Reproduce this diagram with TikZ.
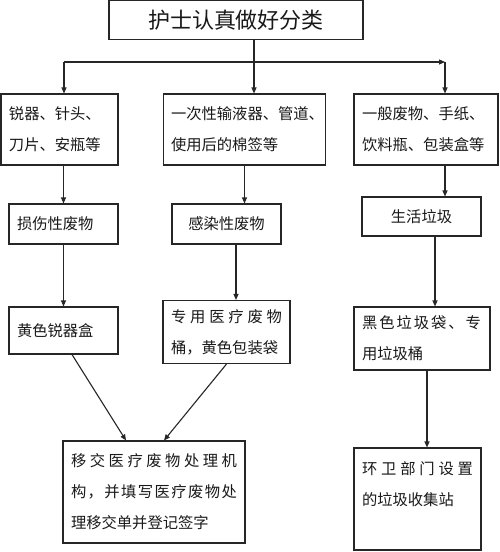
\documentclass[tikz,border=0pt]{standalone}
\usepackage{fontspec}
\newfontfamily\cjk{Noto Sans CJK SC}
\usetikzlibrary{arrows.meta}
\tikzset{
  box/.style={draw=black!85, line width=1.1pt, inner xsep=8pt, inner ysep=0pt, align=left,
    font=\cjk\fontsize{15.3}{31}\selectfont, text=black!90},
  titlebox/.style={box, align=center, font=\cjk\fontsize{22}{26}\selectfont},
  conn/.style={draw=black!85, line width=1.1pt},
  arr/.style={conn, -{Triangle[length=6pt,width=5pt]}}
}
\def\sprA#1{#1\sprB}
\def\sprB#1{\ifx#1\relax\else\hfill#1\expandafter\sprB\fi}
\newcommand\spr[2]{\leavevmode\hbox to #1pt{\sprA#2\relax}}
\begin{document}
\begin{tikzpicture}[x=1pt,y=-1pt]
\useasboundingbox[fill=white] (0,0) rectangle (500,552);
\node[titlebox, text width=238pt, minimum height=39pt] (top) at (236,20) {护士认真做好分类};
\node[box, text width=101pt, minimum height=71pt] (A1) at (59.5,129.5) {锐器、针头、\\刀片、安瓶等};
\node[box, text width=147pt, minimum height=71pt, inner xsep=7.5pt] (B1) at (244.5,129.5) {一次性输液器、管道、\\使用后的棉签等};
\node[box, text width=128pt, minimum height=71pt] (C1) at (426,129.5) {一般废物、手纸、\\饮料瓶、包装盒等};
\node[box, text width=93pt, minimum height=40pt] (A2) at (63.5,224) {损伤性废物};
\node[box, text width=93pt, minimum height=40pt, align=center] (B2) at (226.5,224) {感染性废物};
\node[box, text width=103pt, minimum height=39pt, align=center] (C2) at (421.5,216.5) {生活垃圾};
\node[box, text width=93pt, minimum height=47pt] (A3) at (63.5,330.5) {黄色锐器盒};
\node[box, text width=111pt, minimum height=63pt] (B3) at (226.5,332) {\spr{111}{专用医疗废物}\\桶，黄色包装袋};
\node[box, text width=120pt, minimum height=63pt] (C3) at (422,338.5) {\spr{119}{黑色垃圾袋、专}\\用垃圾桶};
\node[box, text width=166pt, minimum height=102pt] (D) at (154,492) {\spr{166}{移交医疗废物处理机}\\\spr{166}{构，并填写医疗废物处}\\理移交单并登记签字};
\node[box, text width=111pt, minimum height=102pt] (C4) at (417.5,499) {\spr{111}{环卫部门设置}\\的垃圾收集站\\\mbox{}};
\coordinate (hl) at (64,62);
\coordinate (hr) at (445,62);
\coordinate (hm) at (254,62);
\draw[conn] (top.south -| hm) -- (hm);
\draw[arr] (hl) -- (hr);
\draw[arr] (hm) -- (B1.north -| hm);
\draw[arr] (hl) -- (A1.north -| hl);
\draw[arr] (hr) -- (C1.north -| hr);
\draw[arr] (A1.south -| A2.north) -- (A2.north);
\draw[arr] (B1.south) -- (B2.north -| B1.south);
\draw[arr] (C1.south -| hr) -- (C2.north -| hr);
\draw[arr] (A2.south) -- (A3.north);
\draw[arr] ([xshift=9.5pt]B2.south) -- ([xshift=9.5pt]B3.north);
\draw[arr] ([xshift=13.5pt]C2.south) -- ([xshift=13pt]C3.north);
\draw[arr] ([xshift=5pt]C3.south) -- ([xshift=9.5pt]C4.north);
\draw[arr] ([xshift=8.5pt]A3.south) -- ([xshift=-28pt]D.north);
\draw[arr] (B3.south) -- ([xshift=10pt]D.north);
\end{tikzpicture}
\end{document}
